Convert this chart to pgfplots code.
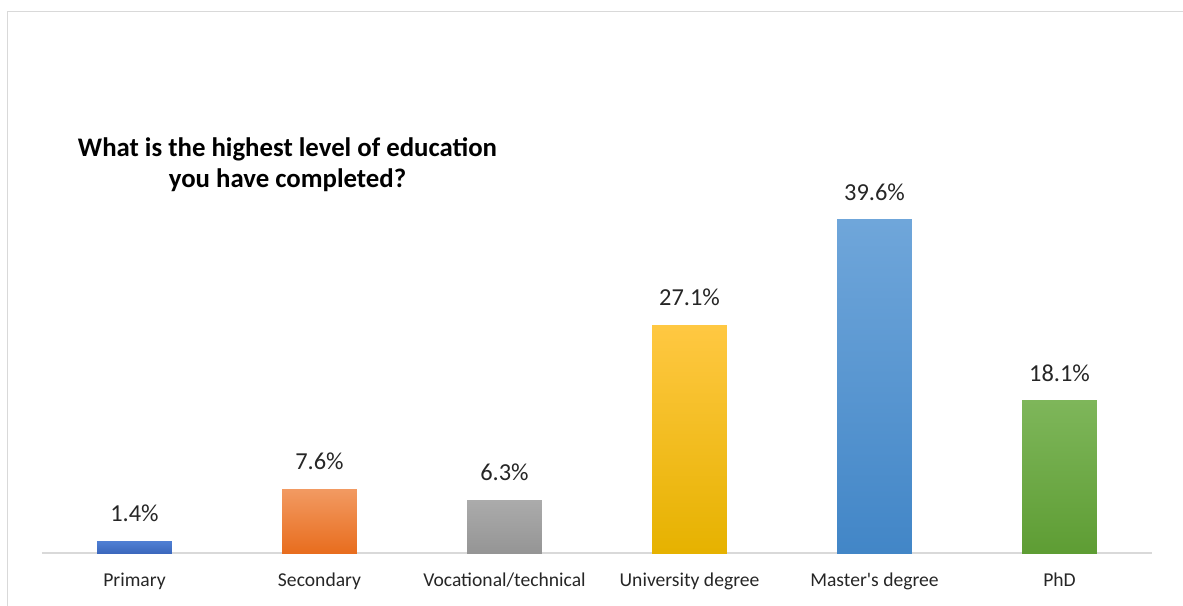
\documentclass[border=0pt]{standalone}
\usepackage{pgfplots}
\pgfplotsset{compat=1.18}
\usepackage{fontspec}
\setmainfont{Carlito}
\definecolor{axgray}{HTML}{D9D9D9}
\definecolor{txt}{HTML}{262626}
\begin{document}
\begin{tikzpicture}
\begin{axis}[
  at={(0,0)}, anchor=south west,
  scale only axis, width=555pt, height=201.85pt,
  xmin=-0.5, xmax=5.5, ymin=0, ymax=48,
  axis x line*=bottom, axis y line=none,
  x axis line style={draw=axgray, line width=0.75pt, -},
  xtick={0,...,5},
  xticklabels={Primary,Secondary,Vocational/technical,University degree,Master\textquotesingle s degree,PhD},
  major tick length=0pt,
  xticklabel style={anchor=base, yshift=-16.5pt, font=\fontsize{9.8}{11}\selectfont, text=txt},
  ybar, bar width=0.405,
  nodes near coords={\pgfmathprintnumber[fixed,fixed zerofill,precision=1]{\pgfplotspointmeta}\%},
  every node near coord/.append style={anchor=center, yshift=14pt, font=\fontsize{12.2}{14}\selectfont, text=txt},
  /pgf/number format/assume math mode=true,
  clip=false,
  mybar/.style={bar shift=0pt, draw=none},
]
\addplot[mybar, top color={rgb,255:red,79;green,127;blue,211}, bottom color={rgb,255:red,60;green,104;blue,189}] coordinates {(0,1.4)};
\addplot[mybar, top color={rgb,255:red,242;green,154;blue,98}, bottom color={rgb,255:red,232;green,109;blue,30}] coordinates {(1,7.6)};
\addplot[mybar, top color={rgb,255:red,171;green,171;blue,171}, bottom color={rgb,255:red,149;green,149;blue,149}] coordinates {(2,6.3)};
\addplot[mybar, top color={rgb,255:red,255;green,200;blue,66}, bottom color={rgb,255:red,230;green,178;blue,0}] coordinates {(3,27.1)};
\addplot[mybar, top color={rgb,255:red,111;green,166;blue,218}, bottom color={rgb,255:red,66;green,134;blue,199}] coordinates {(4,39.6)};
\addplot[mybar, top color={rgb,255:red,126;green,182;blue,90}, bottom color={rgb,255:red,94;green,157;blue,52}] coordinates {(5,18.1)};
\end{axis}
\node[anchor=base, font=\bfseries\fontsize{13.4}{14}\selectfont, text=black] at (122.75pt,198pt) {What is the highest level of education};
\node[anchor=base, font=\bfseries\fontsize{13.4}{14}\selectfont, text=black] at (122.75pt,182.5pt) {you have completed?};
\draw[axgray, line width=0.5pt] (-17.5pt,-30pt) -- (-17.5pt,270.5pt) -- (575pt,270.5pt);
\pgfresetboundingbox
\useasboundingbox (-21pt,-26pt) rectangle (570.5pt,276.5pt);
\end{tikzpicture}
\end{document}
